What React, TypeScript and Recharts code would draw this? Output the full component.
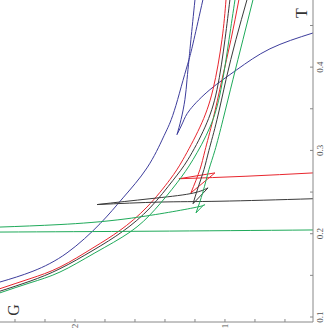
import { LineChart, Line, XAxis, YAxis } from 'recharts';

// G on the bottom axis (reversed), T on the right axis: the plot is drawn turned a quarter turn
const gTicks = [0.6, 0.8, 1.0, 1.2, 1.4, 1.6, 1.8, 2.0, 2.2, 2.4];
const gLabels = [1, 2];
const tTicks = [0.1, 0.15, 0.2, 0.25, 0.3, 0.35, 0.4, 0.45];
const tLabels = [0.1, 0.2, 0.3, 0.4];

// [G, T] — each branch runs between cusps so it can be drawn smooth
const blueMain = [
  [2.5, 0.142], [2.28, 0.155], [2.053, 0.177], [1.833, 0.212], [1.68, 0.243],
  [1.52, 0.279], [1.413, 0.315], [1.367, 0.333], [1.327, 0.354], [1.28, 0.384],
  [1.24, 0.409], [1.207, 0.433], [1.147, 0.481],
];
const blueUpper = [
  [1.2, 0.481], [1.227, 0.433], [1.24, 0.409], [1.253, 0.385], [1.267, 0.361],
  [1.293, 0.337], [1.32, 0.319],
];
const blueRight = [
  [1.32, 0.319], [1.28, 0.334], [1.233, 0.349], [1.1, 0.373], [0.92, 0.397],
  [0.7, 0.422], [0.413, 0.441],
];

const redMain = [
  [2.5, 0.134], [2.3, 0.146], [2.1, 0.16], [1.88, 0.183], [1.7, 0.204],
  [1.52, 0.232], [1.367, 0.265], [1.28, 0.289], [1.167, 0.328], [1.08, 0.373],
  [1.02, 0.433], [0.993, 0.481],
];
const redUpper = [
  [0.907, 0.481], [0.96, 0.433], [1.02, 0.385], [1.08, 0.337], [1.133, 0.3],
  [1.167, 0.277], [1.227, 0.249],
];
const redLoop = [[1.227, 0.249], [1.067, 0.273]];
const redBack = [[1.067, 0.273], [1.307, 0.266]];
const redFlat = [[1.307, 0.266], [0.86, 0.269], [0.413, 0.273]];

const blackMain = [
  [2.5, 0.131], [2.3, 0.143], [2.1, 0.158], [1.88, 0.18], [1.68, 0.203],
  [1.5, 0.231], [1.347, 0.264], [1.247, 0.289], [1.133, 0.328], [1.053, 0.373],
  [1.0, 0.433], [0.967, 0.481],
];
const blackUpper = [
  [0.853, 0.481], [0.927, 0.433], [0.993, 0.385], [1.053, 0.337], [1.107, 0.3],
  [1.14, 0.277], [1.18, 0.255], [1.213, 0.236],
];
const blackLoop = [[1.213, 0.236], [1.113, 0.255]];
const blackBack = [[1.113, 0.255], [1.233, 0.248], [1.5, 0.242], [1.853, 0.235]];
const blackFlat = [[1.853, 0.235], [1.433, 0.238], [1.033, 0.239], [0.413, 0.242]];

const greenMain = [
  [2.5, 0.129], [2.3, 0.141], [2.1, 0.154], [1.867, 0.177], [1.633, 0.202],
  [1.467, 0.229], [1.32, 0.261], [1.213, 0.289], [1.1, 0.328], [1.027, 0.373],
  [0.973, 0.433], [0.933, 0.481],
];
const greenUpper = [
  [0.813, 0.481], [0.88, 0.433], [0.947, 0.385], [1.013, 0.337], [1.067, 0.3],
  [1.107, 0.277], [1.147, 0.25], [1.193, 0.225],
];
const greenLoop = [[1.193, 0.225], [1.14, 0.235]];
const greenBack = [[1.14, 0.235], [1.213, 0.231], [1.653, 0.218], [2.1, 0.211], [2.5, 0.208]];
const greenFlat = [[2.5, 0.202], [1.5, 0.203], [0.413, 0.2045]];

const BLUE = '#3d3d9c';
const RED = '#e8262e';
const BLACK = '#3a3a3a';
const GREEN = '#1faa5a';

const series = [
  { pts: blueMain, color: BLUE },
  { pts: blueUpper, color: BLUE },
  { pts: blueRight, color: BLUE },
  { pts: redMain, color: RED },
  { pts: redUpper, color: RED },
  { pts: redLoop, color: RED },
  { pts: redBack, color: RED },
  { pts: redFlat, color: RED },
  { pts: blackMain, color: BLACK },
  { pts: blackUpper, color: BLACK },
  { pts: blackLoop, color: BLACK },
  { pts: blackBack, color: BLACK },
  { pts: blackFlat, color: BLACK },
  { pts: greenMain, color: GREEN },
  { pts: greenUpper, color: GREEN },
  { pts: greenLoop, color: GREEN },
  { pts: greenBack, color: GREEN },
  { pts: greenFlat, color: GREEN },
];

const toRows = (pts: number[][]) => pts.map(([g, t]) => ({ g, t }));

const GTick = (props: any) => {
  const { x, y, payload } = props;
  const show = gLabels.some((v) => Math.abs(v - payload.value) < 1e-6);
  return (
    <g>
      <line x1={x} y1={y} x2={x} y2={y - 3} stroke="#888" />
      {show && (
        <text
          x={x}
          y={y + 4}
          transform={`rotate(-90 ${x} ${y + 4})`}
          textAnchor="middle"
          dominantBaseline="central"
          fontSize={9}
          fill="#555"
          fontFamily="Liberation Serif"
        >
          {payload.value}
        </text>
      )}
    </g>
  );
};

const TTick = (props: any) => {
  const { x, y, payload } = props;
  const show = tLabels.some((v) => Math.abs(v - payload.value) < 1e-6);
  return (
    <g>
      <line x1={x} y1={y} x2={x - 3} y2={y} stroke="#888" />
      {show && (
        <text
          x={x + 7}
          y={y}
          transform={`rotate(-90 ${x + 7} ${y})`}
          textAnchor="middle"
          dominantBaseline="central"
          fontSize={9}
          fill="#555"
          fontFamily="Liberation Serif"
        >
          {payload.value.toFixed(1)}
        </text>
      )}
    </g>
  );
};

export default function App() {
  return (
    <div style={{ position: 'absolute', left: 0, top: 0, width: 324, height: 330, background: '#fff' }}>
      <LineChart width={324} height={330} margin={{ top: 0, right: 0, bottom: 0, left: 0 }}>
        <XAxis
          dataKey="g"
          type="number"
          domain={[0.413, 2.5]}
          reversed
          allowDataOverflow
          ticks={gTicks}
          tick={<GTick />}
          tickLine={false}
          tickSize={0}
          tickMargin={0}
          height={8}
          stroke="#888"
          interval={0}
        />
        <YAxis
          type="number"
          orientation="right"
          domain={[0.094, 0.4806]}
          allowDataOverflow
          ticks={tTicks}
          tick={<TTick />}
          tickLine={false}
          tickSize={0}
          tickMargin={0}
          width={11}
          stroke="#888"
          interval={0}
        />
        {series.map((s, i) => (
          <Line
            key={i}
            data={toRows(s.pts)}
            dataKey="t"
            type="natural"
            dot={false}
            activeDot={false}
            stroke={s.color}
            strokeWidth={1}
            isAnimationActive={false}
          />
        ))}
      </LineChart>
      <span
        style={{
          position: 'absolute', left: 8, top: 302, fontFamily: 'Liberation Serif', fontSize: 16,
          color: '#333', transform: 'rotate(-90deg)', lineHeight: '16px',
        }}
      >
        G
      </span>
      <span
        style={{
          position: 'absolute', left: 297, top: 5, fontFamily: 'Liberation Serif', fontSize: 16,
          color: '#333', transform: 'rotate(-90deg)', lineHeight: '16px',
        }}
      >
        T
      </span>
    </div>
  );
}
